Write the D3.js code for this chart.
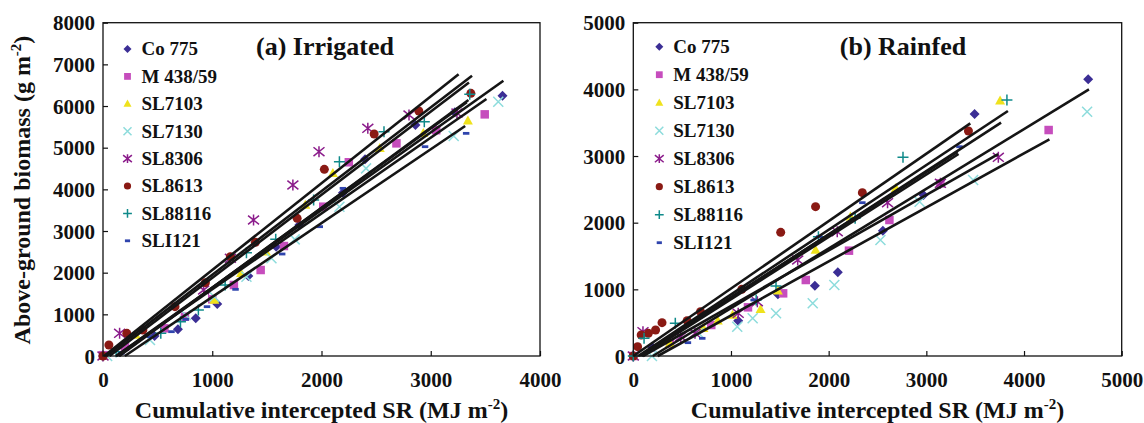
<!DOCTYPE html>
<html>
<head>
<meta charset="utf-8">
<script src="https://cdn.jsdelivr.net/npm/d3@7"></script>
<style>
  body { margin: 0; background: #fff; }
  text { font-family: "Liberation Serif", "Times New Roman", serif; font-weight: bold; fill: #111; }
</style>
</head>
<body>
<svg id="chart" width="1144" height="423"></svg>
<script>
// cultivars, legend order
const cultivars = ['Co 775', 'M 438/59', 'SL7103', 'SL7130', 'SL8306', 'SL8613', 'SL88116', 'SLI121'];
const colors = ['#3b2e95', '#c64dbd', '#efe21c', '#8ddcdc', '#8b1c8b', '#8a1a14', '#0f8a8a', '#2f44ad'];

// (a) Irrigated: [cumulative intercepted SR, biomass]
const irrCo775 = [[0, 0], [472, 480], [686, 640], [849, 904], [1046, 1248], [1330, 1920], [1585, 2624], [1797, 3144], [2196, 3920], [2399, 4720], [2860, 5544], [3220, 5850], [3657, 6248]];
const irrM43859 = [[0, 20], [201, 224], [562, 664], [750, 944], [1000, 1360], [1198, 1704], [1443, 2064], [1656, 2640], [2016, 3584], [2250, 4650], [2686, 5104], [3050, 5420], [3494, 5800]];
const irrSL7103 = [[0, 0], [300, 504], [1019, 1344], [1264, 1984], [1492, 2504], [1852, 3624], [2104, 4384], [2533, 4984], [2932, 5344], [3340, 5648]];
const irrSL7130 = [[38, 0], [430, 384], [757, 984], [1019, 1424], [1313, 1904], [1542, 2344], [1755, 2800], [2164, 3584], [2408, 4504], [3210, 5280], [3618, 6104]];
const irrSL8306 = [[0, 0], [152, 544], [921, 1584], [1166, 2344], [1378, 3264], [1738, 4104], [1977, 4904], [2424, 5464], [2801, 5784], [3240, 5830]];
const irrSL8613 = [[0, 0], [54, 264], [218, 544], [365, 624], [659, 1184], [937, 1760], [1166, 2384], [1395, 2728], [1777, 3304], [2026, 4480], [2482, 5328], [2891, 5880], [3367, 6304]];
const irrSL88116 = [[120, 104], [529, 544], [709, 824], [873, 1104], [1118, 1704], [1313, 2480], [1581, 2800], [1928, 3744], [2164, 4664], [2572, 5384], [2941, 5624], [3357, 6280]];
const irrSLI121 = [[168, 64], [430, 464], [627, 584], [757, 880], [952, 1184], [1213, 1600], [1640, 2448], [1984, 3104], [2196, 4024], [2948, 5024], [3324, 5344]];

// (a) fitted lines: [x at zero biomass, end x, end biomass]
const irrLines = [[10, 3255, 6765], [30, 3378, 6725], [60, 3350, 6565], [120, 3665, 6608], [120, 3510, 6168], [150, 3345, 6144], [140, 3330, 6090], [200, 3315, 5520]];

// (b) Rainfed
const rfCo775 = [[0, 0], [191, 140], [1074, 530], [1480, 925], [1859, 1055], [2094, 1255], [2555, 1880], [2971, 2415], [3494, 3630], [4657, 4150]];
const rfM43859 = [[0, 0], [376, 190], [798, 465], [1174, 730], [1534, 940], [1766, 1140], [2208, 1580], [2622, 2040], [3144, 2590], [4252, 3390]];
const rfSL7103 = [[0, 0], [376, 190], [718, 415], [865, 530], [1016, 615], [1303, 700], [1480, 980], [1866, 1590], [2223, 2090], [2688, 2515], [3755, 3830]];
const rfSL7130 = [[191, 0], [670, 340], [1064, 440], [1222, 565], [1461, 640], [1837, 790], [2058, 1065], [2530, 1740], [2931, 2315], [3479, 2640], [4646, 3665]];
const rfSL8306 = [[0, 0], [99, 365], [486, 290], [632, 340], [1074, 640], [1270, 815], [1683, 1440], [2088, 1865], [2603, 2300], [3144, 2590], [3737, 2980]];
const rfSL8613 = [[0, 0], [44, 140], [81, 315], [154, 340], [228, 390], [294, 500], [551, 530], [688, 665], [1111, 1000], [1509, 1855], [1866, 2240], [2345, 2450], [3431, 3375]];
const rfSL88116 = [[0, 0], [110, 265], [430, 490], [1258, 840], [1461, 1050], [1895, 1790], [2271, 2065], [2761, 2980], [3825, 3840]];
const rfSLI121 = [[191, 90], [559, 200], [706, 265], [1233, 840], [1903, 1790], [2345, 2300], [3339, 3140]];

const rfLines = [[0, 3450, 3490], [50, 3835, 3675], [80, 3765, 3500], [200, 4665, 4000], [100, 3735, 3030], [250, 4260, 3250], [60, 3320, 3060], [90, 3330, 3030]];

const xTicksA = [0, 1000, 2000, 3000, 4000];
const yTicksA = [0, 1000, 2000, 3000, 4000, 5000, 6000, 7000, 8000];
const xTicksB = [0, 1000, 2000, 3000, 4000, 5000];
const yTicksB = [0, 1000, 2000, 3000, 4000, 5000];

const svg = d3.select('#chart');

// marker shapes per cultivar (size here ~ width in px)
const diamond = { draw(ctx, s) { const r = s / 2; ctx.moveTo(0, -r); ctx.lineTo(r, 0); ctx.lineTo(0, r); ctx.lineTo(-r, 0); ctx.closePath(); } };
const square = { draw(ctx, s) { const r = s / 2; ctx.rect(-r, -r, s, s); } };
const triangle = { draw(ctx, s) { const r = s / 2; ctx.moveTo(0, -r * 1.05); ctx.lineTo(r, r * 0.75); ctx.lineTo(-r, r * 0.75); ctx.closePath(); } };
const times = { draw(ctx, s) { const r = s / 2; ctx.moveTo(-r, -r); ctx.lineTo(r, r); ctx.moveTo(r, -r); ctx.lineTo(-r, r); } };
const asterisk = { draw(ctx, s) { const r = s / 2; ctx.moveTo(-r, -r * 0.8); ctx.lineTo(r, r * 0.8); ctx.moveTo(r, -r * 0.8); ctx.lineTo(-r, r * 0.8); ctx.moveTo(0, -r); ctx.lineTo(0, r); } };
const circle = { draw(ctx, s) { const r = s / 2; ctx.moveTo(r, 0); ctx.arc(0, 0, r, 0, 2 * Math.PI); } };
const plus = { draw(ctx, s) { const r = s / 2; ctx.moveTo(-r, 0); ctx.lineTo(r, 0); ctx.moveTo(0, -r); ctx.lineTo(0, r); } };
const dash = { draw(ctx, s) { const w = s * 0.36; ctx.rect(-w, -1.4, 2 * w, 2.8); } };
const shapes = [diamond, square, triangle, times, asterisk, circle, plus, dash];
const stroked = [false, false, false, true, true, false, true, false];
const widths = [10, 8.5, 10, 10, 11, 9, 11, 9];

const marker = (g, i, scale) => g.append('path')
  .attr('d', d3.symbol(shapes[i], widths[i] * scale)())
  .attr('fill', stroked[i] ? 'none' : colors[i])
  .attr('stroke', stroked[i] ? colors[i] : 'none')
  .attr('stroke-width', stroked[i] ? 1.5 : 0);

const drawPanel = (p) => {
  const x = d3.scaleLinear().domain([0, p.xMax]).range([p.left, p.right]);
  const y = d3.scaleLinear().domain([0, p.yMax]).range([356, 22.7]);
  const g = svg.append('g');

  // axes, ticks inside the frame
  g.append('g').attr('transform', 'translate(0,356)')
    .call(d3.axisBottom(x).tickValues(p.xTicks).tickFormat(d3.format('d')).tickSizeInner(-5).tickSizeOuter(0).tickPadding(10))
    .call((a) => a.select('.domain').remove())
    .call((a) => a.selectAll('text').attr('font-size', 21).attr('fill', '#111').attr('dy', '1em').style('font-family', null));
  g.append('g').attr('transform', `translate(${p.left},0)`)
    .call(d3.axisLeft(y).tickValues(p.yTicks).tickFormat(d3.format('d')).tickSizeInner(-5).tickSizeOuter(0).tickPadding(8))
    .call((a) => a.select('.domain').remove())
    .call((a) => a.selectAll('text').attr('font-size', 21).attr('fill', '#111').attr('dy', '0.34em').style('font-family', null));
  g.selectAll('.tick line').attr('stroke', '#111').attr('stroke-width', 1.2);

  // points
  p.series.forEach((pts, i) => {
    pts.forEach(([vx, vy]) => {
      marker(g, i, 1).attr('transform', `translate(${x(vx)},${y(vy)})`);
    });
  });

  // regression lines
  g.append('g').selectAll('line').data(p.lines).join('line')
    .attr('x1', (d) => x(d[0])).attr('y1', y(0))
    .attr('x2', (d) => x(d[1])).attr('y2', (d) => y(d[2]))
    .attr('stroke', '#151515').attr('stroke-width', 2.6).attr('stroke-linecap', 'butt');

  // frame
  g.append('rect').attr('x', p.left).attr('y', 22.7).attr('width', p.right - p.left).attr('height', 356 - 22.7)
    .attr('fill', 'none').attr('stroke', '#111').attr('stroke-width', 1.3);

  // legend
  cultivars.forEach((c, i) => {
    const ly = p.legY + i * p.legStep;
    marker(g, i, 0.8).attr('transform', `translate(${p.legX},${ly})`);
    g.append('text').attr('x', p.legX + 14).attr('y', ly).attr('dy', '0.34em').attr('font-size', 19).text(c);
  });

  // panel title
  g.append('text').attr('x', p.titleX).attr('y', 55).attr('text-anchor', 'middle').attr('font-size', 26).text(p.title);

  // x-axis title
  const xt = g.append('text').attr('x', (p.left + p.right) / 2).attr('y', 418).attr('text-anchor', 'middle').attr('font-size', 24);
  xt.append('tspan').text('Cumulative intercepted SR (MJ m');
  xt.append('tspan').attr('dy', -9).attr('font-size', 15).text('-2');
  xt.append('tspan').attr('dy', 9).text(')');
};

drawPanel({
  left: 103, right: 540, xMax: 4000, yMax: 8000, xTicks: xTicksA, yTicks: yTicksA,
  series: [irrCo775, irrM43859, irrSL7103, irrSL7130, irrSL8306, irrSL8613, irrSL88116, irrSLI121],
  lines: irrLines, legX: 127.5, legY: 49, legStep: 27.4, titleX: 325, title: '(a) Irrigated',
});
drawPanel({
  left: 633.3, right: 1121.7, xMax: 5000, yMax: 5000, xTicks: xTicksB, yTicks: yTicksB,
  series: [rfCo775, rfM43859, rfSL7103, rfSL7130, rfSL8306, rfSL8613, rfSL88116, rfSLI121],
  lines: rfLines, legX: 659.3, legY: 46.7, legStep: 28, titleX: 903, title: '(b) Rainfed',
});

// y-axis title (left panel only)
const yt = svg.append('text').attr('transform', 'translate(30,190) rotate(-90)')
  .attr('text-anchor', 'middle').attr('font-size', 24);
yt.append('tspan').text('Above-ground biomass (g m');
yt.append('tspan').attr('dy', -9).attr('font-size', 15).text('-2');
yt.append('tspan').attr('dy', 9).text(')');
</script>
</body>
</html>
